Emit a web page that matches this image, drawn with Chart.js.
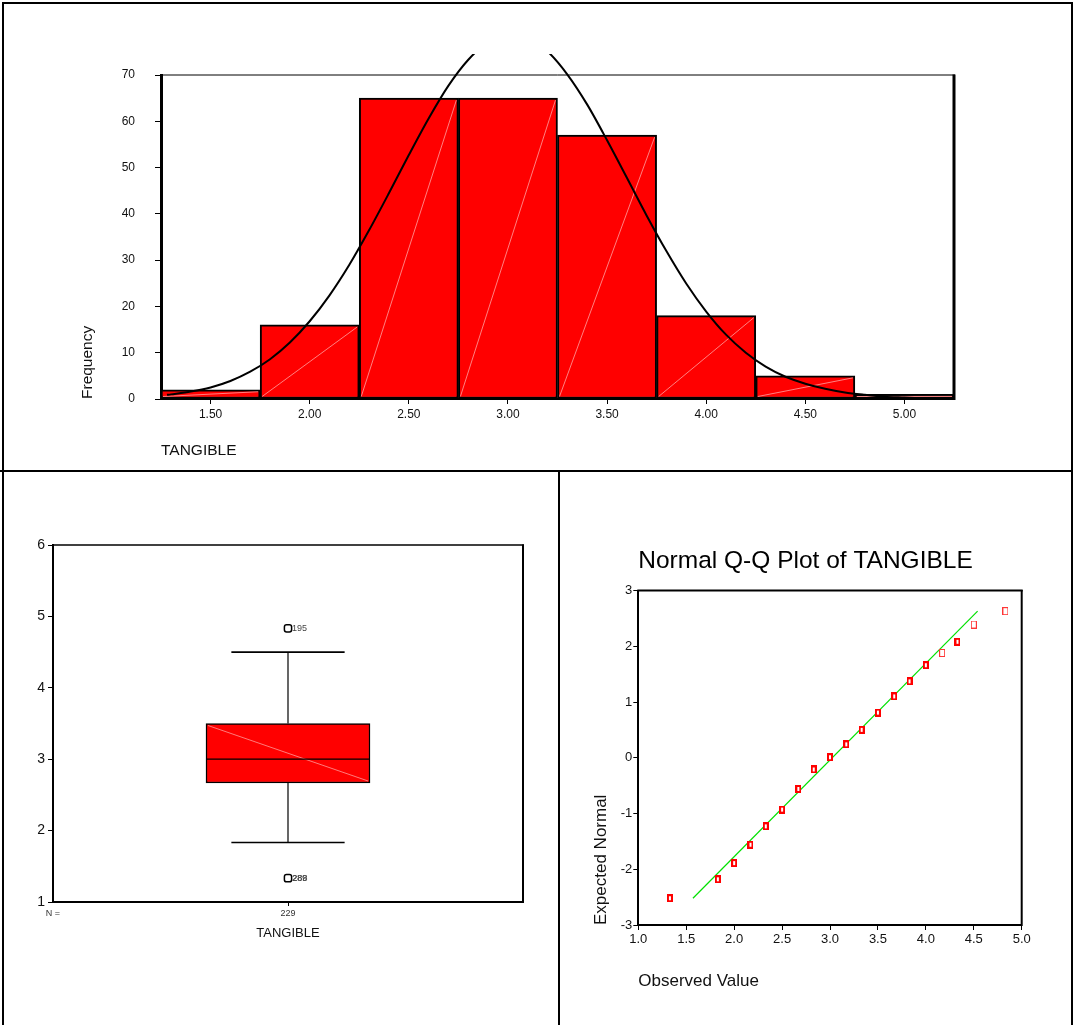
<!DOCTYPE html>
<html><head><meta charset="utf-8">
<script src="https://cdn.jsdelivr.net/npm/chart.js@4.4.1/dist/chart.umd.min.js"></script>
<style>
html,body{margin:0;padding:0;background:#fff;}
#page{position:relative;width:1073px;height:1025px;overflow:hidden;background:#fff;}
canvas{position:absolute;}
.ln{position:absolute;background:#000;z-index:5;}
</style></head><body>
<div id="page">
<canvas id="hist" width="1073" height="470" style="left:0;top:0;width:1073px;height:470px"></canvas>
<canvas id="box" width="558" height="553" style="left:0;top:472px;width:558px;height:553px"></canvas>
<canvas id="qq" width="513" height="553" style="left:560px;top:472px;width:513px;height:553px"></canvas>
<div class="ln" style="left:2px;top:2px;width:2px;height:1023px"></div>
<div class="ln" style="left:2px;top:2px;width:1071px;height:2px"></div>
<div class="ln" style="left:1071px;top:2px;width:2px;height:1023px"></div>
<div class="ln" style="left:0;top:470px;width:1073px;height:2px"></div>
<div class="ln" style="left:558px;top:470px;width:2px;height:555px"></div>
</div>
<script>
// ---------- DATA ----------
// Histogram of TANGIBLE
const histBinCenters = [1.5, 2.0, 2.5, 3.0, 3.5, 4.0, 4.5, 5.0];
const histFrequency  = [2, 16, 65, 65, 57, 18, 5, 1];
const histTickValues = [1.5, 2.0, 2.5, 3.0, 3.5, 4.0, 4.5, 5.0];
// Normal curve
const curveX = [1.28,1.3,1.4,1.5,1.6,1.7,1.8,1.9,2.0,2.1,2.2,2.3,2.4,2.5,2.6,2.7,2.8,2.9,3.0,3.1,3.2,3.3,3.4,3.5,3.6,3.7,3.8,3.9,4.0,4.1,4.2,4.3,4.4,4.5,4.6,4.7,4.8,4.9,5.0,5.05];
const curveY = [0.9,1.0,1.6,2.5,3.9,5.9,8.6,12.2,16.8,22.4,29.0,36.5,44.5,52.7,60.6,67.7,73.3,77.1,78.8,78.1,75.1,70.1,63.6,55.9,47.8,39.6,31.9,24.9,18.9,13.9,10.0,7.0,4.8,3.3,2.2,1.4,0.9,0.5,0.3,0.2];

// Boxplot of TANGIBLE
const boxN = [229];
const boxQuartiles = [2.667, 3.5];
const boxMedian = [3.0];
const boxWhiskers = [1.833, 4.5];
const boxOutliers = [4.833, 1.333];
const boxOutlierCases = [['195'], ['289', '288']];

// Normal Q-Q plot
const qqObserved = [1.33,1.83,2.00,2.17,2.33,2.50,2.67,2.83,3.00,3.17,3.33,3.50,3.67,3.83,4.00,4.17,4.33,4.50,4.83];
const qqExpected = [-2.52,-2.18,-1.89,-1.56,-1.23,-0.93,-0.56,-0.21,0.01,0.24,0.50,0.81,1.10,1.37,1.66,1.88,2.08,2.39,2.63];
const qqLineX = [1.57, 4.54];
const qqLineY = [-2.52, 2.63];

// ---------- HELPERS ----------
Chart.defaults.font.family = "'Liberation Sans', Arial, sans-serif";
Chart.defaults.color = '#111';

const framePlugin = { id: 'frame', afterDraw(chart, args, opts) {
  const {ctx, chartArea: {left, top, right, bottom}} = chart;
  ctx.save(); ctx.strokeStyle = '#000';
  if (opts.top) { ctx.lineWidth = opts.top; ctx.beginPath(); ctx.moveTo(left - 1, top); ctx.lineTo(right + 1, top); ctx.stroke(); }
  if (opts.right) { ctx.lineWidth = opts.right; ctx.beginPath(); ctx.moveTo(right, top - 0.5); ctx.lineTo(right, bottom + 1); ctx.stroke(); }
  ctx.restore();
}};

const diagPlugin = { id: 'diag', afterDatasetDraw(chart, args, opts) {
  if (opts.index === undefined || args.index !== opts.index) return;
  const ctx = chart.ctx;
  ctx.save(); ctx.strokeStyle = opts.color; ctx.lineWidth = 0.8;
  args.meta.data.forEach(el => {
    const {x, y, base, width} = el.getProps(['x', 'y', 'base', 'width'], true);
    const l = x - width / 2 + 2, r = x + width / 2 - 2, t = Math.min(y, base) + 2, b = Math.max(y, base) - 2;
    ctx.beginPath();
    if (opts.dir === 'up') { ctx.moveTo(l, b); ctx.lineTo(r, t); } else { ctx.moveTo(l, t); ctx.lineTo(r, b); }
    ctx.stroke();
  });
  ctx.restore();
}};

const caseLabelPlugin = { id: 'caseLabels', afterDatasetsDraw(chart, args, opts) {
  if (opts.index === undefined) return;
  const meta = chart.getDatasetMeta(opts.index);
  const ctx = chart.ctx;
  ctx.save();
  ctx.font = "9px 'Liberation Sans', Arial, sans-serif";
  ctx.fillStyle = '#444'; ctx.textAlign = 'left'; ctx.textBaseline = 'middle';
  meta.data.forEach((el, i) => {
    (opts.labels[i] || []).forEach((t, k) => ctx.fillText(t, el.x + 4 + k * 0.6, el.y));
  });
  ctx.restore();
}};

const common = { responsive: false, animation: false, devicePixelRatio: 1, events: [] };

// ---------- HISTOGRAM ----------
new Chart(document.getElementById('hist'), {
  type: 'bar',
  data: { datasets: [
    { type: 'line', label: 'Normal curve', data: curveX.map((x, i) => ({x, y: curveY[i]})),
      borderColor: '#000', borderWidth: 2, pointRadius: 0, tension: 0.3, fill: false,
      clip: {left: 10, top: 21, right: 10, bottom: 10}, order: 0 },
    { type: 'bar', label: 'Frequency', data: histBinCenters.map((x, i) => ({x, y: histFrequency[i]})),
      backgroundColor: '#FF0000', borderColor: '#000', borderWidth: 2, borderSkipped: false,
      barPercentage: 1, categoryPercentage: 1, order: 1 }
  ]},
  options: Object.assign({}, common, {
    layout: { padding: {left: 0, right: 119, top: 75, bottom: 0} },
    plugins: { legend: {display: false}, tooltip: {enabled: false},
      frame: {top: 1, right: 3}, diag: {index: 1, dir: 'up', color: 'rgba(255,190,190,0.85)'} },
    scales: {
      x: { type: 'linear', min: 1.25, max: 5.25, offset: false,
        afterBuildTicks: s => { s.ticks = histTickValues.map(v => ({value: v})); },
        afterFit: s => { s.height = 71; },
        grid: { display: true, offset: false, drawOnChartArea: false, drawTicks: true, tickLength: 5, color: '#000', lineWidth: 1 },
        border: { display: true, color: '#000', width: 2 },
        ticks: { color: '#111', font: {size: 12}, padding: 3, autoSkip: false, maxRotation: 0,
          callback: v => Number(v).toFixed(2) },
        title: { display: true, text: 'TANGIBLE', align: 'start', color: '#111', font: {size: 15.5}, padding: {top: 0, bottom: 10} } },
      y: { min: 0, max: 70,
        ticks: { stepSize: 10, color: '#111', font: {size: 12}, padding: 20 },
        afterFit: s => { s.width = 161; },
        grid: { drawOnChartArea: false, tickLength: 6, color: '#000' },
        border: { display: true, color: '#000', width: 3 },
        title: { display: true, text: 'Frequency', align: 'start', color: '#111', font: {size: 15.5}, padding: {top: 78, bottom: 0} } }
    }
  }),
  plugins: [framePlugin, diagPlugin]
});

// ---------- BOXPLOT ----------
const bC = 0.5, bHalf = 0.1745, cHalf = 0.1205;
const lineDs = (pts, w) => ({ type: 'line', data: pts, borderColor: '#000', borderWidth: w, pointRadius: 0, fill: false, order: 1 });
new Chart(document.getElementById('box'), {
  type: 'bar',
  data: { datasets: [
    { type: 'bar', label: 'TANGIBLE', data: [{x: bC, y: boxQuartiles}], backgroundColor: '#FF0000',
      borderColor: '#000', borderWidth: 1.5, borderSkipped: false, barThickness: 164, order: 5 },
    lineDs([{x: bC - bHalf, y: boxMedian[0]}, {x: bC + bHalf, y: boxMedian[0]}], 1.2),
    lineDs([{x: bC, y: boxQuartiles[1]}, {x: bC, y: boxWhiskers[1]}], 1.2),
    lineDs([{x: bC - cHalf, y: boxWhiskers[1]}, {x: bC + cHalf, y: boxWhiskers[1]}], 1.6),
    lineDs([{x: bC, y: boxWhiskers[0]}, {x: bC, y: boxQuartiles[0]}], 1.2),
    lineDs([{x: bC - cHalf, y: boxWhiskers[0]}, {x: bC + cHalf, y: boxWhiskers[0]}], 1.6),
    { type: 'scatter', label: 'Outliers', data: boxOutliers.map(v => ({x: bC, y: v})), pointStyle: 'rectRounded',
      pointRadius: 4.2, borderColor: '#000', borderWidth: 1.5, backgroundColor: '#fff', order: 0 }
  ]},
  options: Object.assign({}, common, {
    layout: { padding: {left: 0, right: 35, top: 73, bottom: 0} },
    plugins: { legend: {display: false}, tooltip: {enabled: false},
      frame: {top: 1.5, right: 2}, diag: {index: 0, dir: 'down', color: 'rgba(255,170,170,0.9)'},
      caseLabels: {index: 6, labels: boxOutlierCases} },
    scales: {
      x: { type: 'linear', min: 0, max: 1, offset: false,
        afterBuildTicks: s => { s.ticks = [{value: 0}, {value: bC}]; },
        afterFit: s => { s.height = 123; },
        grid: { offset: false, drawOnChartArea: false, tickLength: 4, color: c => (c.tick && c.tick.value === 0) ? 'rgba(0,0,0,0)' : '#000' },
        border: { display: true, color: '#000', width: 2 },
        ticks: { color: '#333', font: {size: 9}, padding: 2, autoSkip: false, maxRotation: 0,
          callback: v => v === 0 ? 'N =' : String(boxN[0]) },
        title: { display: true, text: 'TANGIBLE', align: 'center', color: '#111', font: {size: 13}, padding: {top: 0, bottom: 83.5} } },
      y: { min: 1, max: 6,
        ticks: { stepSize: 1, color: '#111', font: {size: 14}, padding: 3 },
        afterFit: s => { s.width = 53; },
        grid: { drawOnChartArea: false, tickLength: 5, color: '#000' },
        border: { display: true, color: '#000', width: 2 } }
    }
  }),
  plugins: [framePlugin, diagPlugin, caseLabelPlugin]
});

// ---------- Q-Q PLOT ----------
function makeMark(thick) {
  const c = document.createElement('canvas'); c.width = 6; c.height = 8;
  const g = c.getContext('2d');
  if (thick) {
    g.fillStyle = '#FF0000'; g.fillRect(0, 0, 6, 8);
    g.fillStyle = '#fff'; g.fillRect(2, 2, 2, 4);
  } else {
    g.fillStyle = '#fff'; g.fillRect(0, 0, 6, 8);
    g.strokeStyle = '#FF3535'; g.lineWidth = 1; g.strokeRect(0.5, 0.5, 5, 7);
  }
  return c;
}
const thickMark = makeMark(true), thinMark = makeMark(false);
const thinSet = new Set([15, 17, 18]);
new Chart(document.getElementById('qq'), {
  type: 'scatter',
  data: { datasets: [
    { type: 'line', label: 'Expected', data: qqLineX.map((x, i) => ({x, y: qqLineY[i]})),
      borderColor: '#00E000', borderWidth: 1.2, pointRadius: 0, fill: false, order: 1 },
    { type: 'scatter', label: 'Observed', data: qqObserved.map((x, i) => ({x, y: qqExpected[i]})),
      pointStyle: c => thinSet.has(c.dataIndex) ? thinMark : thickMark, pointRadius: 3, order: 0 }
  ]},
  options: Object.assign({}, common, {
    layout: { padding: {left: 0, right: 51.3, top: 0, bottom: 0} },
    plugins: { legend: {display: false}, tooltip: {enabled: false}, frame: {top: 2, right: 2},
      title: { display: true, text: 'Normal Q-Q Plot of TANGIBLE', align: 'start', fullSize: false,
        color: '#000', font: {size: 24.5, weight: 'normal'}, padding: {top: 74.3, bottom: 14.8} } },
    scales: {
      x: { type: 'linear', min: 1, max: 5,
        ticks: { stepSize: 0.5, color: '#111', font: {size: 13}, padding: 1.5, autoSkip: false, maxRotation: 0,
          callback: v => Number(v).toFixed(1) },
        afterFit: s => { s.height = 100; },
        grid: { offset: false, drawOnChartArea: false, tickLength: 5, color: '#000' },
        border: { display: true, color: '#000', width: 2 },
        title: { display: true, text: 'Observed Value', align: 'start', color: '#111', font: {size: 17}, padding: {top: 0, bottom: 33} } },
      y: { min: -3, max: 3,
        ticks: { stepSize: 1, color: '#111', font: {size: 13}, padding: 1 },
        afterFit: s => { s.width = 78.3; },
        grid: { drawOnChartArea: false, tickLength: 5, color: '#000' },
        border: { display: true, color: '#000', width: 2 },
        title: { display: true, text: 'Expected Normal', align: 'start', color: '#111', font: {size: 17}, padding: {top: 31, bottom: 0} } }
    }
  }),
  plugins: [framePlugin]
});
</script>
</body></html>
